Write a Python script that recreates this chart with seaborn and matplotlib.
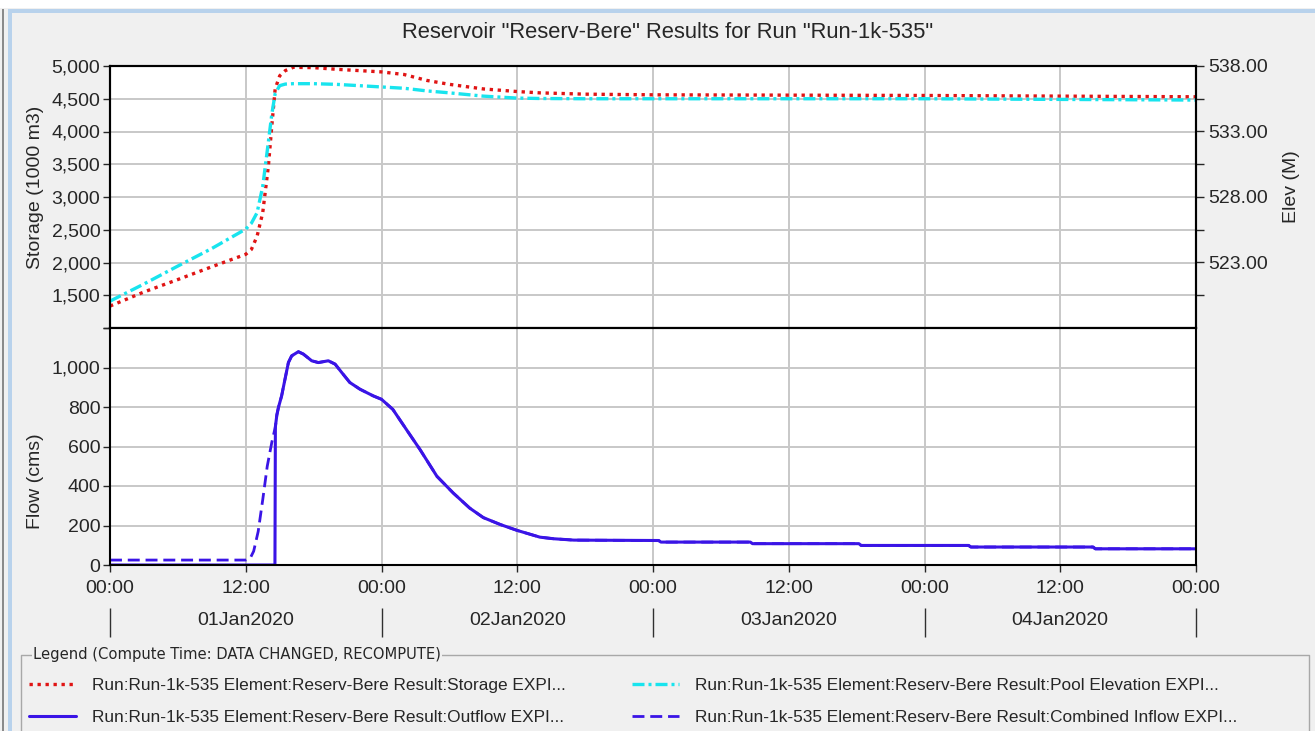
import numpy as np
import pandas as pd
import matplotlib
matplotlib.use("Agg")
import matplotlib.pyplot as plt
import matplotlib.ticker as mticker
from matplotlib.patches import Rectangle
from matplotlib.lines import Line2D
import seaborn as sns

#------------------data (hours after 01Jan2020 00:00)-------------------
TITLE = 'Reservoir "Reserv-Bere" Results for Run "Run-1k-535"'

res_hours = [0, 3, 6, 9, 12, 12.5, 13, 13.5, 14, 14.3, 14.6, 15, 15.5, 16.2,
             18, 20, 22, 24, 26, 28, 30, 33, 36, 38, 42, 48, 60, 72, 84, 96]
storage = [1335, 1550, 1740, 1935, 2125, 2200, 2400, 2760, 3470, 4080, 4650,
           4850, 4930, 4980, 4975, 4950, 4930, 4910, 4870, 4780, 4720, 4650,
           4610, 4590, 4570, 4560, 4555, 4550, 4540, 4530]
pool_elev = [520.05, 521.36, 522.73, 524.07, 525.55, 526.0, 526.8, 528.8,
             532.2, 534.3, 535.9, 536.5, 536.62, 536.65, 536.65, 536.6, 536.5,
             536.4, 536.3, 536.1, 535.95, 535.7, 535.55, 535.52, 535.5, 535.5,
             535.5, 535.5, 535.45, 535.4]

flow_hours = [0, 12, 12.4, 12.7, 13.1, 13.5, 13.9, 14.3, 14.58, 14.62, 14.75,
              14.9, 15.17, 15.47, 15.77, 16.06, 16.65, 17.09, 17.83, 18.42,
              19.3, 19.9, 20.48, 21.2, 22.1, 23.28, 24.0, 25.0, 26.2, 27.4,
              28.9, 30.35, 31.8, 33.0, 34.5, 36.0, 38.0, 39.2, 41.0, 48.5,
              48.7, 56.6, 56.8, 66.2, 66.4, 75.9, 76.1, 86.9, 87.1, 96]
outflow = [0, 0, 0, 0, 0, 0, 0, 0, 0, 700, 760, 800, 856, 941, 1025, 1059,
           1080, 1068, 1034, 1025, 1034, 1017, 975, 924, 890, 856, 839, 788,
           686, 585, 449, 364, 288, 240, 205, 175, 141, 133, 126, 124, 116,
           116, 108, 108, 99, 99, 91, 91, 82, 82]
inflow_rise = [25, 25, 35, 70, 170, 330, 500, 620, 690]  # before it joins the outflow
inflow = inflow_rise + outflow[len(inflow_rise):]

x_ticks = [0, 12, 24, 36, 48, 60, 72, 84, 96]
x_tick_labels = ["00:00", "12:00"] * 4 + ["00:00"]
day_ticks = [12, 36, 60, 84]
day_labels = ["01Jan2020", "02Jan2020", "03Jan2020", "04Jan2020"]

legend_labels = [
    "Run:Run-1k-535 Element:Reserv-Bere Result:Storage EXPI...",
    "Run:Run-1k-535 Element:Reserv-Bere Result:Outflow EXPI...",
    "Run:Run-1k-535 Element:Reserv-Bere Result:Pool Elevation EXPI...",
    "Run:Run-1k-535 Element:Reserv-Bere Result:Combined Inflow EXPI...",
]

#------------------style-------------------
RED = "#e01414"
CYAN = "#18e4ee"
BLUE = "#3a14e6"
GRID = "#c8c8c8"
BG = "#f0f0f0"
W, H = 1315, 731
FS = 14

sns.set_style("ticks")
plt.rcParams["font.family"] = ["Liberation Sans", "DejaVu Sans"]


def box(x0, y0, x1, y1):
    # pixel box (top-left origin) -> figure fraction rect
    return [x0 / W, 1 - y1 / H, (x1 - x0) / W, (y1 - y0) / H]


def main():
    fig = plt.figure(figsize=(W / 100, H / 100), dpi=100, facecolor=BG)

    # window frame bits
    fig.add_artist(Rectangle((0, 1 - 8 / H), 1, 8 / H, transform=fig.transFigure,
                             facecolor="white", edgecolor="none"))
    fig.add_artist(Rectangle((8 / W, 1 - 13 / H), 1, 4 / H, transform=fig.transFigure,
                             facecolor="#b8d2ec", edgecolor="none"))
    fig.add_artist(Rectangle((8 / W, 0), 4 / W, 1 - 9 / H, transform=fig.transFigure,
                             facecolor="#b8d2ec", edgecolor="none"))
    fig.add_artist(Rectangle((2 / W, 0), 2 / W, 1 - 9 / H, transform=fig.transFigure,
                             facecolor="#8a8a8a", edgecolor="none"))

    ax_top = fig.add_axes(box(110, 66, 1196, 328))
    ax_bot = fig.add_axes(box(110, 328, 1196, 565), sharex=ax_top)
    ax_elev = ax_top.twinx()

    # top panel: storage + pool elevation
    sns.lineplot(x=res_hours, y=storage, ax=ax_top, color=RED, lw=2.4,
                 linestyle=(0, (1, 1.4)))
    sns.lineplot(x=res_hours, y=pool_elev, ax=ax_elev, color=CYAN, lw=2.4,
                 linestyle=(0, (3.6, 1.2, 0.9, 1.2)))
    # bottom panel: flows
    sns.lineplot(x=flow_hours, y=inflow, ax=ax_bot, color=BLUE, lw=2.0,
                 linestyle=(0, (4.3, 2.1)))
    sns.lineplot(x=flow_hours, y=outflow, ax=ax_bot, color=BLUE, lw=2.2)

    ax_top.set_xlim(0, 96)
    ax_top.set_ylim(1000, 5000)
    ax_elev.set_ylim(518, 538)
    ax_bot.set_ylim(0, 1200)

    for ax in (ax_top, ax_bot, ax_elev):
        ax.set_xlabel("")
        ax.set_ylabel("")
        for sp in ax.spines.values():
            sp.set_visible(True)
            sp.set_color("black")
            sp.set_linewidth(1.5)
    for ax in (ax_top, ax_bot):
        ax.set_facecolor("white")
        ax.set_axisbelow(True)
        ax.grid(True, color=GRID, lw=1.4)

    # storage axis
    ax_top.yaxis.set_major_locator(mticker.MultipleLocator(500))
    ax_top.yaxis.set_major_formatter(mticker.FuncFormatter(
        lambda v, p: "" if v < 1500 else f"{v:,.0f}"))
    ax_top.tick_params(axis="y", direction="out", length=5, width=1, labelsize=FS, pad=2)
    ax_top.tick_params(axis="x", bottom=False, labelbottom=False)

    # elevation axis
    ax_elev.set_yticks([520.5, 523, 525.5, 528, 530.5, 533, 535.5, 538])
    ax_elev.yaxis.set_major_formatter(mticker.FuncFormatter(
        lambda v, p: f"{v:.2f}" if abs((v - 523) % 5) < 0.01 else ""))
    ax_elev.tick_params(axis="y", direction="out", length=6, width=1, labelsize=FS, pad=3)

    # flow axis
    ax_bot.yaxis.set_major_locator(mticker.MultipleLocator(200))
    ax_bot.yaxis.set_major_formatter(mticker.FuncFormatter(
        lambda v, p: "" if v > 1100 else f"{v:,.0f}"))
    ax_bot.tick_params(axis="y", direction="out", length=5, width=1, labelsize=FS, pad=2)
    ax_bot.set_xticks(x_ticks)
    ax_bot.set_xticklabels(x_tick_labels)
    ax_bot.tick_params(axis="x", direction="out", length=5, width=1, labelsize=FS, pad=6)

    # date row under the time ticks
    sec = ax_bot.secondary_xaxis((565 - 608) / 237)
    sec.spines["bottom"].set_visible(False)
    sec.set_xticks([0, 24, 48, 72, 96])
    sec.set_xticklabels([""] * 5)
    sec.set_xticks(day_ticks, minor=True)
    sec.set_xticklabels(day_labels, minor=True)
    sec.tick_params(which="major", direction="out", length=21, width=1, color="#303030")
    sec.tick_params(which="minor", length=0, labelsize=FS, pad=3)

    fig.text(668 / W, 1 - 32 / H, TITLE, ha="center", va="center", fontsize=15.8)
    fig.text(36 / W, 1 - 187 / H, "Storage (1000 m3)", rotation=90,
             ha="center", va="center", fontsize=FS)
    fig.text(36 / W, 1 - 481 / H, "Flow (cms)", rotation=90,
             ha="center", va="center", fontsize=FS)
    fig.text(1292 / W, 1 - 187 / H, "Elev (M)", rotation=90,
             ha="center", va="center", fontsize=FS)

    # legend frame with its title set into the top border
    lx0, ly0, lx1 = 21, 655, 1309
    fig.add_artist(Line2D([lx0 / W, lx0 / W, lx1 / W, lx1 / W],
                          [0, 1 - ly0 / H, 1 - ly0 / H, 0],
                          transform=fig.transFigure, color="#a8a8a8", lw=1))
    fig.text(33 / W, 1 - ly0 / H, "Legend (Compute Time: DATA CHANGED, RECOMPUTE)",
             ha="left", va="center", fontsize=11.8, fontstretch="condensed",
             family=["Liberation Sans Narrow", "DejaVu Sans"],
             bbox=dict(facecolor=BG, edgecolor="none", pad=1))

    h_storage, = ax_top.lines[:1]
    h_elev, = ax_elev.lines[:1]
    h_inflow, h_outflow = ax_bot.lines[:2]
    leg_kw = dict(loc="upper left", frameon=False, fontsize=12.45, handlelength=2.7,
                  handletextpad=0.95, labelspacing=1.0, borderpad=0,
                  borderaxespad=0)
    fig.legend([h_storage, h_outflow], [legend_labels[0], legend_labels[1]],
               bbox_to_anchor=(29 / W, 1 - 678 / H), **leg_kw)
    fig.legend([h_elev, h_inflow], [legend_labels[2], legend_labels[3]],
               bbox_to_anchor=(632 / W, 1 - 678 / H), **leg_kw)

    fig.savefig("out.png", dpi=100, facecolor=BG)


if __name__ == "__main__":
    main()
